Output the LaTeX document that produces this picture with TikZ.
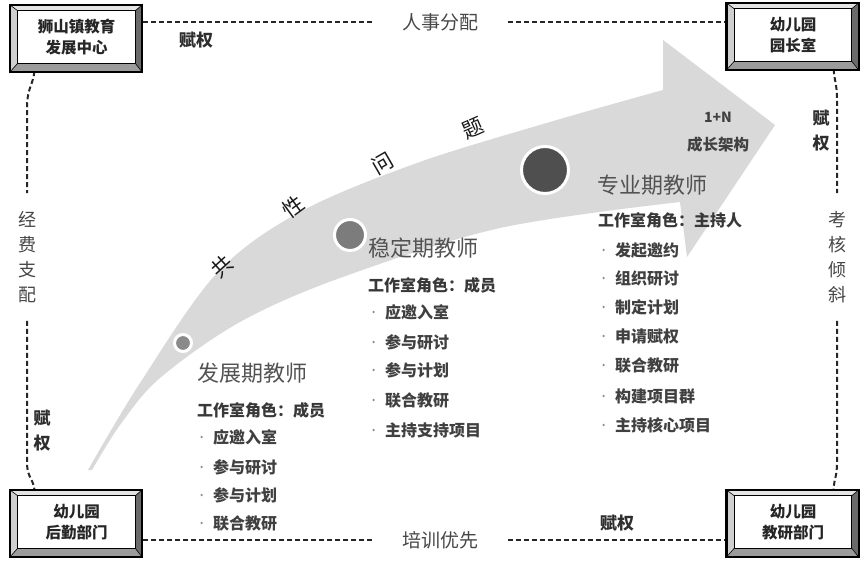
\documentclass[tikz,border=0pt]{standalone}
\usepackage{fontspec}
\setmainfont{Noto Sans CJK SC}
\usetikzlibrary{calc}
\definecolor{arrowgray}{HTML}{D9D9D9}
\definecolor{bevtop}{HTML}{E4E4E4}
\definecolor{bevleft}{HTML}{CFCFCF}
\definecolor{bevright}{HTML}{6A6A6A}
\definecolor{bevbot}{HTML}{9C9C9C}
\definecolor{cone}{HTML}{8A8A8A}
\definecolor{ctwo}{HTML}{7C7C7C}
\definecolor{cthree}{HTML}{4F4F4F}
\newcommand\bevelframe[1]{%
  \coordinate (#1-iNW) at (#1.north west);
  \coordinate (#1-iNE) at (#1.north east);
  \coordinate (#1-iSE) at (#1.south east);
  \coordinate (#1-iSW) at (#1.south west);
  \coordinate (#1-oNW) at ($(#1.north west)+(-8,-6)$);
  \coordinate (#1-oNE) at ($(#1.north east)+(7,-6)$);
  \coordinate (#1-oSE) at ($(#1.south east)+(7,9)$);
  \coordinate (#1-oSW) at ($(#1.south west)+(-8,9)$);
  \fill[bevtop] (#1-oNW) -- (#1-oNE) -- (#1-iNE) -- (#1-iNW) -- cycle;
  \fill[bevleft] (#1-oNW) -- (#1-iNW) -- (#1-iSW) -- (#1-oSW) -- cycle;
  \fill[bevright] (#1-oNE) -- (#1-oSE) -- (#1-iSE) -- (#1-iNE) -- cycle;
  \fill[bevbot] (#1-oSW) -- (#1-iSW) -- (#1-iSE) -- (#1-oSE) -- cycle;
  \draw[line width=0.6pt] (#1-oNW) -- (#1-iNW) (#1-oNE) -- (#1-iNE)
        (#1-oSE) -- (#1-iSE) (#1-oSW) -- (#1-iSW);
  \draw[line width=1.2pt] (#1-iNW) rectangle (#1-iSE);
  \draw[line width=2.4pt] (#1-oNW) rectangle (#1-oSE);
}
\begin{document}
\begin{tikzpicture}[x=1pt,y=-1pt,
  dashline/.style={draw=black!85, line width=2pt, dash pattern=on 5pt off 3pt},
  boxn/.style={fill=white, minimum width=117pt, minimum height=52pt, align=center,
     font=\bfseries\fontsize{15.5}{20.5}\selectfont, inner sep=0pt, text=black!85},
  lab/.style={font=\fontsize{19}{22}\selectfont, text=black!72},
  vlab/.style={font=\fontsize{18}{25}\selectfont, text=black!72, align=center, inner xsep=2pt, inner ysep=18pt},
  fq/.style={font=\bfseries\fontsize{17}{25}\selectfont, text=black!82, align=center, inner sep=0pt},
  head/.style={font=\fontsize{22}{24}\selectfont, text=black!68, anchor=west, inner sep=0pt},
  role/.style={font=\bfseries\fontsize{16}{18}\selectfont, text=black!78, anchor=west, inner sep=0pt},
  item/.style={font=\bfseries\fontsize{16}{18}\selectfont, text=black!75, anchor=west, inner sep=0pt,
     label={[circle, fill=black!45, inner sep=0.9pt, label distance=10pt]left:{}}},
  gx/.style={font=\fontsize{21}{24}\selectfont, text=black!90, inner sep=0pt},
  dot/.style={circle, draw=white, line width=3pt, inner sep=0pt},
  ]
\useasboundingbox (0,0) rectangle (864,564);
\fill[white] (0,0) rectangle (864,564);

% big curved arrow
\fill[arrowgray] plot[smooth, tension=0.55] coordinates {(88,470) (140,383) (217,273) (300,212) (417,163) (550,122) (663,90)}
   -- (663,40) -- (775,125) -- (687,257) -- (680,202)
   -- plot[smooth, tension=0.55] coordinates {(680,202) (500,228) (340,278) (240,322) (160,378) (120,425) (92,470)} -- cycle;

% circles
\node[dot, fill=cone, minimum size=17pt] (c1) at (183,343) {};
\node[dot, fill=ctwo, minimum size=31pt] (c2) at (350,235) {};
\node[dot, fill=cthree, minimum size=47pt] (c3) at (545,170) {};

% common-problem characters
\node[gx, rotate=42] (g1) at (222,267) {共};
\node[gx, rotate=36] (g2) at (293,207) {性};
\node[gx, rotate=30] (g3) at (383,163) {问};
\node[gx, rotate=24] (g4) at (473,128) {题};

\node[font=\bfseries\fontsize{14}{15}\selectfont, text=black!75] (n1) at (718,117) {1+N};
\node[font=\bfseries\fontsize{15.5}{17}\selectfont, text=black!75] (n2) at (718,145) {成长架构};

% corner boxes
\node[boxn] (tl) at (76.5,37) {狮山镇教育\\发展中心};
\node[boxn] (tr) at (793,35) {幼儿园\\园长室};
\node[boxn] (bl) at (76.5,522) {幼儿园\\后勤部门};
\node[boxn] (br) at (793,522) {幼儿园\\教研部门};

% link labels
\node[lab, inner xsep=30pt] (hr) at (440,22) {人事分配};
\node[lab, inner xsep=30pt] (px) at (440,540) {培训优先};
\node[vlab] (jf) at (27,257) {经\\费\\支\\配};
\node[vlab] (kh) at (837,257) {考\\核\\倾\\斜};

\node[fq] (fq1) at (196,40) {赋权};
\node[fq] (fq2) at (821,131) {赋\\权};
\node[fq] (fq3) at (42,431) {赋\\权};
\node[fq] (fq4) at (617,523) {赋权};

% dashed connectors
\draw[dashline] (tl.east |- hr.west) -- (hr.west);
\draw[dashline] (hr.east) -- (tr.west |- hr.east);
\draw[dashline] (bl.east |- px.west) -- (px.west);
\draw[dashline] (px.east) -- (br.west |- px.east);
\draw[dashline] ([xshift=17pt]tl.south west) .. controls (35,85) and (27,85) .. (27,108) -- (jf.north);
\draw[dashline] (jf.south) -- (27,462) .. controls (27,480) and (35,478) .. ([xshift=17pt]bl.north west);
\draw[dashline] ([xshift=-18pt]tr.south east) .. controls (833,80) and (837,80) .. (837,100) -- (kh.north);
\draw[dashline] (kh.south) -- (837,462) .. controls (837,480) and (833,478) .. ([xshift=-18pt]br.north east);

\bevelframe{tl}
\bevelframe{tr}
\bevelframe{bl}
\bevelframe{br}

% stage 1
\node[head] (h1) at (197,373) {发展期教师};
\node[role] (r1) at (197,410) {工作室角色：成员};
\node[item] (a1) at (213,437) {应邀入室};
\node[item] (a2) at (213,467) {参与研讨};
\node[item] (a3) at (213,495) {参与计划};
\node[item] (a4) at (213,523) {联合教研};

% stage 2
\node[head] (h2) at (368,248) {稳定期教师};
\node[role] (r2) at (368,285) {工作室角色：成员};
\node[item] (b1) at (385,312) {应邀入室};
\node[item] (b2) at (385,342) {参与研讨};
\node[item] (b3) at (385,370) {参与计划};
\node[item] (b4) at (385,400) {联合教研};
\node[item] (b5) at (385,430) {主持支持项目};

% stage 3
\node[head] (h3) at (597,185) {专业期教师};
\node[role] (r3) at (598,220) {工作室角色：主持人};
\node[item] (d1) at (615,250) {发起邀约};
\node[item] (d2) at (615,278) {组织研讨};
\node[item] (d3) at (615,307) {制定计划};
\node[item] (d4) at (615,336) {申请赋权};
\node[item] (d5) at (615,365) {联合教研};
\node[item] (d6) at (615,396) {构建项目群};
\node[item] (d7) at (615,425) {主持核心项目};
\end{tikzpicture}
\end{document}
